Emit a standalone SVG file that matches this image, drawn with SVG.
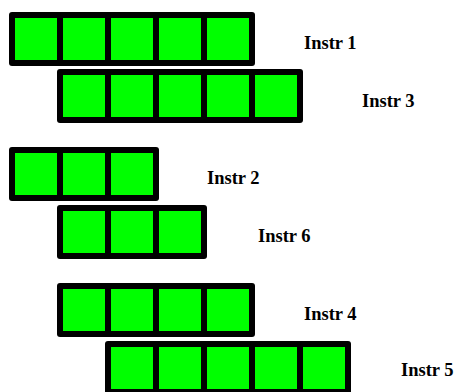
<svg xmlns="http://www.w3.org/2000/svg" width="456" height="392" viewBox="0 0 456 392">
<style>
.frame{fill:#000;}
.cell{fill:#00ff00;}
.lbl{font-family:'Liberation Serif','Times New Roman',Times,serif;font-weight:700;font-size:18.5px;fill:#000;}
</style>
<rect width="456" height="392" fill="#fff"/>
<g id="instr1">
<rect class="frame" x="9" y="12" width="246" height="54" rx="3"/>
<rect class="cell" x="15" y="18" width="42" height="42"/><rect class="cell" x="63" y="18" width="42" height="42"/><rect class="cell" x="111" y="18" width="42" height="42"/><rect class="cell" x="159" y="18" width="42" height="42"/><rect class="cell" x="207" y="18" width="42" height="42"/>
<text class="lbl" x="304" y="49">Instr 1</text>
</g>
<g id="instr3">
<rect class="frame" x="57" y="69" width="246" height="54" rx="3"/>
<rect class="cell" x="63" y="75" width="42" height="42"/><rect class="cell" x="111" y="75" width="42" height="42"/><rect class="cell" x="159" y="75" width="42" height="42"/><rect class="cell" x="207" y="75" width="42" height="42"/><rect class="cell" x="255" y="75" width="42" height="42"/>
<text class="lbl" x="362" y="107">Instr 3</text>
</g>
<g id="instr2">
<rect class="frame" x="9" y="147" width="150" height="54" rx="3"/>
<rect class="cell" x="15" y="153" width="42" height="42"/><rect class="cell" x="63" y="153" width="42" height="42"/><rect class="cell" x="111" y="153" width="42" height="42"/>
<text class="lbl" x="207" y="184">Instr 2</text>
</g>
<g id="instr6">
<rect class="frame" x="57" y="205" width="150" height="54" rx="3"/>
<rect class="cell" x="63" y="211" width="42" height="42"/><rect class="cell" x="111" y="211" width="42" height="42"/><rect class="cell" x="159" y="211" width="42" height="42"/>
<text class="lbl" x="258" y="242">Instr 6</text>
</g>
<g id="instr4">
<rect class="frame" x="57" y="283" width="198" height="54" rx="3"/>
<rect class="cell" x="63" y="289" width="42" height="42"/><rect class="cell" x="111" y="289" width="42" height="42"/><rect class="cell" x="159" y="289" width="42" height="42"/><rect class="cell" x="207" y="289" width="42" height="42"/>
<text class="lbl" x="304" y="320">Instr 4</text>
</g>
<g id="instr5">
<rect class="frame" x="105" y="341" width="246" height="54" rx="3"/>
<rect class="cell" x="111" y="347" width="42" height="42"/><rect class="cell" x="159" y="347" width="42" height="42"/><rect class="cell" x="207" y="347" width="42" height="42"/><rect class="cell" x="255" y="347" width="42" height="42"/><rect class="cell" x="303" y="347" width="42" height="42"/>
<text class="lbl" x="401" y="376">Instr 5</text>
</g>
<g id="connectors"/>
</svg>
